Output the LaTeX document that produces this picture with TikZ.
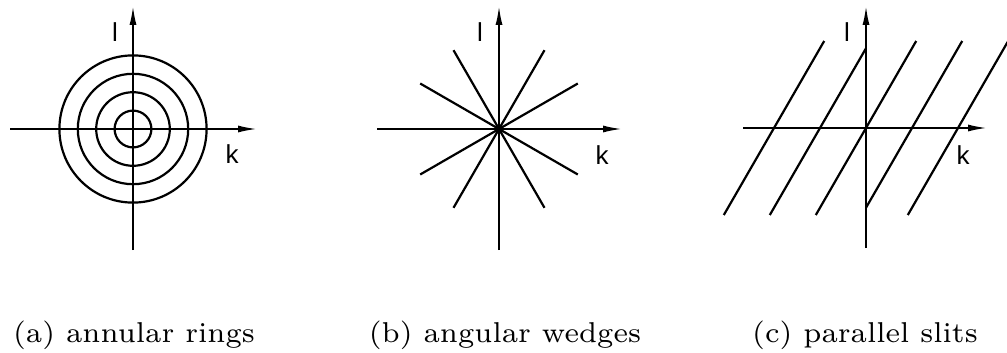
\documentclass[tikz,border=0pt]{standalone}
\usepackage{fontspec}
\newfontfamily\axisfont{Liberation Sans}
\usetikzlibrary{arrows.meta}

\begin{document}
\begin{tikzpicture}[x=1pt, y=-1pt, line width=2.2pt,
    axis/.style={-{Latex[length=20pt, width=7pt]}},
    axlabel/.style={font=\axisfont\fontsize{26}{26}\selectfont, inner sep=0pt},
    caption/.style={font=\fontsize{7}{8}\selectfont, scale=4.1, inner sep=0pt, anchor=base}]
\useasboundingbox (0,0) rectangle (1007,353);

% (a) annular rings
\draw[axis] (10,129) -- (258,129);
\draw[axis] (133,250) -- (133,5);
\foreach \r in {18.4, 36.8, 55.2, 73.6} {
    \draw (133,129) circle[radius=\r pt];
}
\node[axlabel] (la) at (115,32) {l};
\node[axlabel] (ka) at (232,154) {k};
\node[caption] (capa) at (134,342) {(a) annular rings};

% (b) angular wedges
\draw[axis] (377,129) -- (623,129);
\draw[axis] (499,250) -- (499,5);
\foreach \a in {30, 60, 120, 150, 210, 240, 300, 330} {
    \draw (499,129) -- ++(\a:91);
}
\fill (499,129) circle[radius=4.5pt];
\node[axlabel] (lb) at (480,32) {l};
\node[axlabel] (kb) at (602,155) {k};
\node[caption] (capb) at (505,342) {(b) angular wedges};

% (c) parallel slits
\draw[axis] (743,128) -- (988,128);
\draw[axis] (866,248) -- (866,5);
\foreach \c/\lo/\hi in {774/-1/1, 820/-1/0.916, 866/-1/1, 912/-0.916/1, 958/-1/1} {
    \draw (\c+\lo*50.2, 128-\lo*87) -- (\c+\hi*50.2, 128-\hi*87);
}
\node[axlabel] (lc) at (847,32) {l};
\node[axlabel] (kc) at (963,155) {k};
\node[caption] (capc) at (865,342) {(c) parallel slits};
\end{tikzpicture}
\end{document}
